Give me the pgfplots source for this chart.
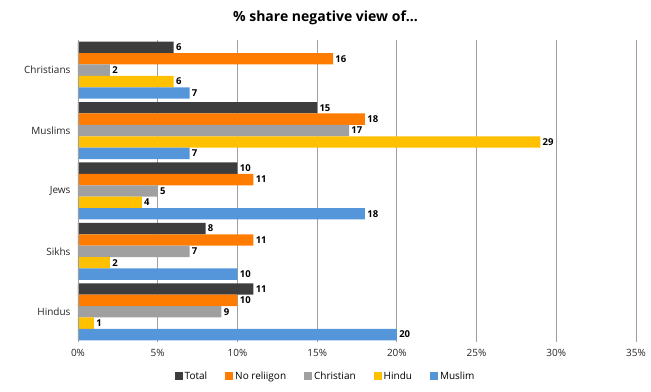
\documentclass[border=0pt]{standalone}
\usepackage{pgfplots}
\pgfplotsset{compat=1.18}
\usepackage{fontspec}
\setmainfont{Open Sans}
\definecolor{cTotal}{HTML}{3D3D3D}
\definecolor{cNone}{HTML}{FF7C00}
\definecolor{cChr}{HTML}{A0A0A0}
\definecolor{cHin}{HTML}{FFC000}
\definecolor{cMus}{HTML}{5596DA}
\definecolor{gridc}{HTML}{A0A0A0}
\begin{document}
\begin{tikzpicture}
\begin{axis}[
  name=ax,
  scale only axis,
  width=558pt, height=302pt,
  xbar,
  bar width=11.4pt,
  xmin=0, xmax=35,
  ymin=-0.5, ymax=4.5,
  y dir=reverse,
  ytick={0,1,2,3,4},
  yticklabels={Christians,Muslims,Jews,Sikhs,Hindus},
  xtick={0,5,...,35},
  xticklabel={\pgfmathprintnumber{\tick}\%},
  /pgf/number format/assume math mode=true,
  tick label style={font=\fontsize{10}{12}\selectfont, text=black!85},
  yticklabel style={xshift=-4pt},
  xticklabel style={yshift=-4pt},
  major tick length=0pt,
  xmajorgrids,
  grid style={gridc, line width=0.8pt},
  axis line style={draw=none},
  axis x line*=bottom,
  axis y line*=left,
  nodes near coords,
  every node near coord/.append style={font=\fontsize{9.5}{10}\selectfont\bfseries, fill=white, inner sep=1.2pt, anchor=west, xshift=1pt},
  legend style={at={(0.5-0.0564,-0.113)}, anchor=center, legend columns=-1, draw=none, font=\fontsize{10}{12}\selectfont, /tikz/every even column/.append style={column sep=16pt}},
  legend image code/.code={\fill[#1] (0pt,-4pt) rectangle (8pt,4pt);},
]
\addplot[fill=cTotal, draw=none, bar shift=22.8pt] coordinates {(6,0) (15,1) (10,2) (8,3) (11,4)};
\addlegendentry{Total}
\addplot[fill=cNone, draw=none, bar shift=11.4pt] coordinates {(16,0) (18,1) (11,2) (11,3) (10,4)};
\addlegendentry{No reliigon}
\addplot[fill=cChr, draw=none, bar shift=0pt] coordinates {(2,0) (17,1) (5,2) (7,3) (9,4)};
\addlegendentry{Christian}
\addplot[fill=cHin, draw=none, bar shift=-11.4pt] coordinates {(6,0) (29,1) (4,2) (2,3) (1,4)};
\addlegendentry{Hindu}
\addplot[fill=cMus, draw=none, bar shift=-22.8pt] coordinates {(7,0) (7,1) (18,2) (10,3) (20,4)};
\addlegendentry{Muslim}
\draw[gridc, line width=0.8pt] (axis cs:0,-0.5) -- (axis cs:0,4.5);
\end{axis}
\node[font=\fontsize{14}{16}\selectfont\bfseries] at ([xshift=247.5pt,yshift=22pt]ax.north west) {\% share negative view of...};
\pgfresetboundingbox
\path ([xshift=-78pt,yshift=-50pt]ax.south west) rectangle ([xshift=15pt,yshift=40pt]ax.north east);
\end{tikzpicture}
\end{document}
